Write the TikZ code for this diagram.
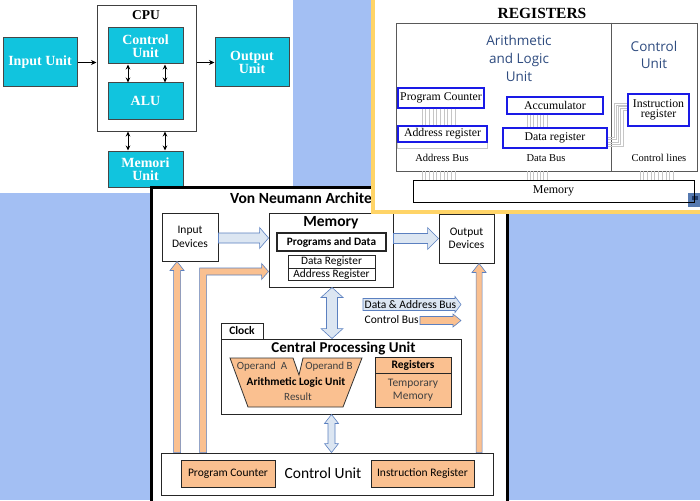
\documentclass[tikz,border=0pt]{standalone}
\usepackage{fontspec}
\usetikzlibrary{calc,arrows.meta}
\newfontfamily\tmsf{Liberation Serif}
\newfontfamily\calib{Carlito}
\newfontfamily\osans{Open Sans}
\definecolor{bgblue}{HTML}{A3BFF3}
\definecolor{cyanbox}{HTML}{11C4DE}
\definecolor{panelyellow}{HTML}{FFD467}
\definecolor{orangefill}{HTML}{FAC090}
\definecolor{lightbluefill}{HTML}{DCE6F2}
\definecolor{arrowblue}{HTML}{5B80C0}
\definecolor{regblue}{HTML}{1A1AE6}
\definecolor{alutext}{HTML}{2E4B7F}
\definecolor{iconblue}{HTML}{5579B0}
\definecolor{icondark}{HTML}{1F3B6B}
\newcommand{\harrow}[6]{%
  \draw[#1] let \p1=#2, \p2=#3 in
   (\x1,\y1+#4) -- (\x2-#6,\y1+#4) -- (\x2-#6,\y1+#5) -- (\x2,\y1) -- (\x2-#6,\y1-#5) -- (\x2-#6,\y1-#4) -- (\x1,\y1-#4) -- cycle;}
\newcommand{\varrow}[6]{%
  \draw[#1] let \p1=#2, \p2=#3 in
   (\x1-#4,\y1) -- (\x1-#4,\y2-#6) -- (\x1-#5,\y2-#6) -- (\x1,\y2) -- (\x1+#5,\y2-#6) -- (\x1+#4,\y2-#6) -- (\x1+#4,\y1) -- cycle;}
\newcommand{\dvarrow}[6]{%
  \draw[#1] let \p1=#2, \p2=#3 in
   (\x1,\y1) -- (\x1+#5,\y1-#6) -- (\x1+#4,\y1-#6) -- (\x1+#4,\y2+#6) -- (\x1+#5,\y2+#6) -- (\x1,\y2) -- (\x1-#5,\y2+#6) -- (\x1-#4,\y2+#6) -- (\x1-#4,\y1-#6) -- (\x1-#5,\y1-#6) -- cycle;}
\tikzset{
  cybox/.style={draw=gray!55!black, line width=1pt, fill=cyanbox, text=white, inner sep=0pt, align=center,
     font=\tmsf\bfseries\fontsize{14}{12.5}\selectfont},
  ar1/.style={-{Stealth[length=5.5pt,width=5pt]}, line width=0.8pt},
  dar1/.style={{Stealth[length=5pt,width=4.5pt]}-{Stealth[length=5pt,width=4.5pt]}, line width=0.8pt},
  vnbox/.style={draw=black!85, line width=0.9pt, fill=white, inner sep=0pt, align=center,
     font=\calib\fontsize{11.5}{13.5}\selectfont},
  obox/.style={draw=black!85, line width=0.9pt, fill=orangefill, inner sep=0pt, align=center,
     font=\calib\fontsize{11.5}{13}\selectfont},
  barrow/.style={draw=arrowblue, line width=0.6pt, fill=lightbluefill},
  oarrow/.style={draw=arrowblue, line width=0.6pt, fill=orangefill},
  regbox/.style={draw=regblue, line width=1.4pt, fill=white, inner sep=0pt, align=center,
     font=\tmsf\fontsize{11.8}{10.5}\selectfont},
  bus/.style={draw=gray!45, line width=0.4pt},
  buslabel/.style={font=\tmsf\fontsize{10.5}{10.5}\selectfont, inner sep=0pt}
}
\begin{document}
\begin{tikzpicture}[x=1pt,y=-1pt]
\useasboundingbox (0,0) rectangle (700,500);
\fill[bgblue] (0,0) rectangle (700,500);

% ================= Panel 1 =================
\fill[white] (0,0) rectangle (293,193);
\node[cybox, minimum width=74, minimum height=49] (inu) at (40,62.5) {Input Unit};
\node[draw=gray!50!black, line width=1pt, fill=white, minimum width=99, minimum height=125, inner sep=0pt] (cpu1) at (146.5,68.5) {};
\node[font=\tmsf\bfseries\fontsize{13.5}{13.5}\selectfont, inner sep=0pt] (cpulab) at (146,15) {CPU};
\node[cybox, minimum width=75, minimum height=36] (ctrl1) at (145.5,46) {Control\\Unit};
\node[cybox, minimum width=75, minimum height=36] (alu1) at (145.5,101) {ALU};
\node[cybox, minimum width=74, minimum height=49] (outu) at (252,62.5) {Output\\Unit};
\node[cybox, minimum width=75, minimum height=36] (memu) at (145.5,169) {Memori\\Unit};
\draw[ar1] (inu.east) -- (inu.east -| cpu1.west);
\draw[ar1] (cpu1.east |- outu.west) -- (outu.west);
\draw[dar1] ([xshift=-17.5pt]ctrl1.south) -- ([xshift=-17.5pt]alu1.north);
\draw[dar1] ([xshift=19.5pt]ctrl1.south) -- ([xshift=19.5pt]alu1.north);
\draw[dar1] ([xshift=-17.5pt]ctrl1.south |- cpu1.south) -- ([xshift=-17.5pt]memu.north);
\draw[dar1] ([xshift=19.5pt]ctrl1.south |- cpu1.south) -- ([xshift=19.5pt]memu.north);

% ================= Panel 3 (Von Neumann) =================
\node[draw=black, line width=3pt, fill=white, minimum width=356, minimum height=340, inner sep=0pt, anchor=north west] (vnframe) at (150,185.5) {};
\node[font=\calib\bfseries\fontsize{15.5}{15.5}\selectfont, anchor=west, inner sep=0pt] (vntitle) at (230,198) {Von Neumann Architecture};

\node[vnbox, minimum width=56, minimum height=48] (indev) at (190,237) {Input\\Devices};
\node[vnbox, minimum width=55, minimum height=49] (outdev) at (466.5,238.5) {Output\\Devices};
\node[vnbox, minimum width=124, minimum height=74] (mem3) at (331,250) {};
\node[font=\calib\bfseries\fontsize{15.5}{15.5}\selectfont, inner sep=0pt] (memlab) at (331,223) {Memory};
\node[vnbox, line width=1.6pt, minimum width=109, minimum height=18, font=\calib\bfseries\fontsize{11.3}{11}\selectfont] (progdata) at (331.5,242) {Programs and Data};
\node[vnbox, line width=0.7pt, minimum width=87, minimum height=12.5, font=\calib\fontsize{11.3}{11}\selectfont] (datareg) at (331.5,262) {Data Register};
\node[vnbox, line width=0.7pt, minimum width=87, minimum height=12.5, font=\calib\fontsize{11.3}{11}\selectfont] (addrreg) at (331.5,274.5) {Address Register};

\node[vnbox, minimum width=42, minimum height=16, font=\calib\bfseries\fontsize{11.5}{11}\selectfont] (clock) at (242,331) {Clock};
\node[vnbox, minimum width=240, minimum height=75] (cpu3) at (341,376.5) {};
\node[font=\calib\bfseries\fontsize{15}{15}\selectfont, inner sep=0pt] (cpulab3) at (343.5,349) {Central Processing Unit};

\filldraw[fill=orangefill, draw=black!80, line width=0.8pt] (230,358) -- (293,358) -- (299,375) -- (303,358) -- (362,358) -- (343,407) -- (248,407) -- cycle;
\node[font=\calib\fontsize{11}{11}\selectfont, text=black!75, inner sep=0pt] (opa) at (262,367) {Operand\ \ A};
\node[font=\calib\fontsize{11}{11}\selectfont, text=black!75, inner sep=0pt] (opb) at (329,367) {Operand B};
\node[font=\calib\bfseries\fontsize{11.3}{11}\selectfont, inner sep=0pt] (alulab) at (296,382) {Arithmetic Logic Unit};
\node[font=\calib\fontsize{11}{11}\selectfont, text=black!75, inner sep=0pt] (result) at (298,397) {Result};

\node[obox, minimum width=76, minimum height=16, font=\calib\bfseries\fontsize{11.5}{11}\selectfont] (regtop) at (413,365) {Registers};
\node[obox, minimum width=76, minimum height=34, text=black!75] (regbot) at (413,390) {Temporary\\Memory};

\node[vnbox, minimum width=332, minimum height=42] (ctrlunit) at (327,474) {};
\node[font=\calib\fontsize{15.5}{15.5}\selectfont, inner sep=0pt] (culab) at (323,473) {Control Unit};
\node[obox, minimum width=94, minimum height=27] (progcnt) at (228,473.5) {Program Counter};
\node[obox, minimum width=103, minimum height=27] (instreg) at (422.5,473.5) {Instruction Register};

% block arrows
\harrow{barrow}{([yshift=-1pt]indev.east)}{(mem3.west)}{5pt}{10.5pt}{9pt}
\harrow{barrow}{(mem3.east |- outdev.west)}{(outdev.west)}{5pt}{11pt}{11pt}
\dvarrow{barrow}{([xshift=1pt]mem3.south)}{(mem3.south |- cpu3.north)}{5.5pt}{11pt}{10pt}
\dvarrow{barrow}{([xshift=-9.5pt]cpu3.south)}{(ctrlunit.north)}{3.5pt}{7pt}{9pt}
\varrow{oarrow}{([xshift=16.5pt]ctrlunit.north west)}{(indev.south)}{3.5pt}{7pt}{9pt}
\varrow{oarrow}{([xshift=318.5pt]ctrlunit.north west)}{(outdev.south)}{3pt}{7pt}{9pt}
\draw[oarrow] let \p1=([xshift=42.5pt]ctrlunit.north west), \p2=([yshift=-21.5pt]mem3.west) in
  (\x1-3.5pt,\y1) -- (\x1-3.5pt,\y2+3.5pt) -- (\x2-7pt,\y2+3.5pt) -- (\x2-7pt,\y2+8pt) -- (\x2,\y2)
  -- (\x2-7pt,\y2-8pt) -- (\x2-7pt,\y2-3.5pt) -- (\x1+3.5pt,\y2-3.5pt) -- (\x1+3.5pt,\y1) -- cycle;

% legend
\coordinate (l1s) at (363,304.5);
\coordinate (l1t) at (461,304.5);
\harrow{barrow}{(l1s)}{(l1t)}{6pt}{8pt}{6pt}
\node[font=\calib\fontsize{11.5}{11.5}\selectfont, anchor=west, inner sep=0pt] (leg1) at (364.5,304.5) {Data \& Address Bus};
\coordinate (l2s) at (420,320.5);
\coordinate (l2t) at (461,320.5);
\harrow{oarrow}{(l2s)}{(l2t)}{4pt}{6.5pt}{8pt}
\node[font=\calib\fontsize{11.5}{11.5}\selectfont, anchor=west, inner sep=0pt] (leg2) at (364.5,319.5) {Control Bus};

% ================= Panel 2 (Registers) =================
\filldraw[draw=panelyellow, line width=3.5pt, fill=white] (373,-10) rectangle (712,212);
\node[font=\tmsf\bfseries\fontsize{15.5}{15.5}\selectfont, inner sep=0pt] (regtitle) at (542,13) {REGISTERS};
\node[draw=gray!70!black, line width=0.9pt, minimum width=301, minimum height=148, inner sep=0pt] (regouter) at (546.5,97) {};
\draw[draw=gray!70!black, line width=0.9pt] ([xshift=216pt]regouter.north west) -- ([xshift=216pt]regouter.south west);
\node[font=\osans\fontsize{13.5}{18}\selectfont, text=alutext, align=center, inner sep=0pt] (alutxt) at (519,58) {Arithmetic\\and Logic\\Unit};
\node[font=\osans\fontsize{13.5}{17}\selectfont, text=alutext, align=center, inner sep=0pt] (cutxt) at (654,55) {Control\\Unit};

\node[regbox, minimum width=86, minimum height=20] (pc2) at (441,98) {Program Counter};
\node[regbox, minimum width=89, minimum height=16] (ar2) at (442.5,134) {Address register};
\node[regbox, minimum width=96, minimum height=17] (acc) at (555,105.5) {Accumulator};
\node[regbox, minimum width=104, minimum height=20] (dr2) at (555,138) {Data register};
\node[regbox, minimum width=61, minimum height=32] (ir2) at (658.5,110) {Instruction\\register};

\fill[iconblue] (688,193) rectangle (700,207);
\fill[icondark] (692,196) rectangle (698,200);
\node[draw=black, line width=1pt, minimum width=281, minimum height=22, inner sep=0pt, font=\tmsf\fontsize{12}{12}\selectfont] (mem2) at (553.5,191) {Memory};

% bus lines
\foreach \i in {0,...,9} {
  \draw[bus] ([xshift={-19+3.67*\i}]pc2.south) -- ([xshift={-19+3.67*\i}]pc2.south |- ar2.north);
  \draw[bus] ([xshift={-19+3.67*\i}]pc2.south |- regouter.south) -- ([xshift={-19+3.67*\i}]pc2.south |- mem2.north);
  \draw[bus] ([xshift={-18.5+3.67*\i}]ir2.south |- regouter.south) -- ([xshift={-18.5+3.67*\i}]ir2.south |- mem2.north);
}
\foreach \i in {0,...,6} {
  \draw[bus] ([xshift={-28+3.33*\i}]acc.south) -- ([xshift={-28+3.33*\i}]acc.south |- dr2.north);
  \draw[bus] ([xshift={-28+3.33*\i}]acc.south |- regouter.south) -- ([xshift={-28+3.33*\i}]acc.south |- mem2.north);
}
\foreach \i in {0,...,4} {
  \draw[bus] let \p1=(dr2.east), \p2=(ir2.west) in
    (\x1,\y1+1pt-2.4pt*\i) -- (\x1+6pt+2.3pt*\i,\y1+1pt-2.4pt*\i) -- (\x1+6pt+2.3pt*\i,\y2+7pt-1.8pt*\i) -- (\x2,\y2+7pt-1.8pt*\i);
}
\draw[bus, line width=0.6pt] (ar2.south west) -- ([yshift=-6pt]ar2.south west) -- ([yshift=-6pt]ar2.south east) -- (ar2.south east);

\node[buslabel] (abus) at (442,158) {Address Bus};
\node[buslabel] (dbus) at (546,158) {Data Bus};
\node[buslabel] (clines) at (659,158) {Control lines};
\end{tikzpicture}
\end{document}
